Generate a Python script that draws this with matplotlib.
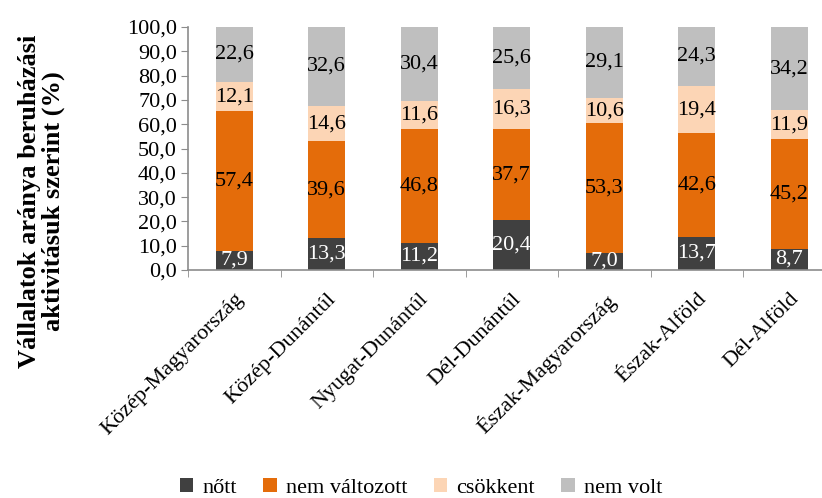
import matplotlib
matplotlib.use("Agg")
import matplotlib.pyplot as plt
import numpy as np

regions = ["Közép-Magyarország", "Közép-Dunántúl", "Nyugat-Dunántúl", "Dél-Dunántúl",
           "Észak-Magyarország", "Észak-Alföld", "Dél-Alföld"]
series_names = ["nőtt", "nem változott", "csökkent", "nem volt"]
nott = [7.9, 13.3, 11.2, 20.4, 7.0, 13.7, 8.7]
nem_valtozott = [57.4, 39.6, 46.8, 37.7, 53.3, 42.6, 45.2]
csokkent = [12.1, 14.6, 11.6, 16.3, 10.6, 19.4, 11.9]
nem_volt = [22.6, 32.6, 30.4, 25.6, 29.1, 24.3, 34.2]
yticks = [0, 10, 20, 30, 40, 50, 60, 70, 80, 90, 100]

colors = ["#404040", "#E46C0A", "#FCD5B5", "#BFBFBF"]
label_colors = ["white", "black", "black", "black"]
axis_color = "#8C8C8C"
serif = ["Liberation Serif", "DejaVu Serif"]

plt.rcParams["font.family"] = serif

fig = plt.figure(figsize=(8.22, 4.98), dpi=100)
ax = fig.add_axes([188 / 822, 1 - 270 / 498, 7 * 92.5 / 822, 243 / 498])

x = np.arange(len(regions))
bottom = np.zeros(len(regions))
for name, vals, c, lc in zip(series_names, [nott, nem_valtozott, csokkent, nem_volt],
                             colors, label_colors):
    bars = ax.bar(x, vals, width=0.4, bottom=bottom, color=c, label=name)
    labels = [f"{v:.1f}".replace(".", ",") for v in vals]
    ax.bar_label(bars, labels=labels, label_type="center", color=lc, fontsize=16)
    bottom += np.array(vals)

ax.set_xlim(-0.5, len(regions) - 0.5)
ax.set_ylim(0, 100)
ax.set_yticks(yticks)
ax.set_yticklabels([f"{v:.1f}".replace(".", ",") for v in yticks], fontsize=16)
ax.set_xticks(x)
ax.set_xticklabels(regions, rotation=45, ha="right", va="top",
                   rotation_mode="anchor", fontsize=16)
ax.set_xticks(np.arange(len(regions) + 1) - 0.5, minor=True)
ax.tick_params(axis="x", which="major", length=0, pad=14)
ax.tick_params(axis="x", which="minor", length=5, color=axis_color)
ax.tick_params(axis="y", length=5, color=axis_color, pad=3)

for s in ["top", "right"]:
    ax.spines[s].set_visible(False)
for s in ["left", "bottom"]:
    ax.spines[s].set_color(axis_color)
    ax.spines[s].set_linewidth(1.2)

ax.set_ylabel("Vállalatok aránya beruházási\naktivitásuk szerint (%)",
              fontsize=19, fontweight="bold", linespacing=1.05)
ax.yaxis.set_label_coords(-0.19, 0.284)

handles, labs = ax.get_legend_handles_labels()
fig.legend(handles, labs, loc="center", bbox_to_anchor=(421 / 822, 1 - 488 / 498),
           ncol=4, frameon=False, prop={"family": serif, "size": 16},
           handlelength=0.6, handleheight=0.6, handletextpad=0.4, columnspacing=1.2)

fig.savefig("out.png", dpi=100)
